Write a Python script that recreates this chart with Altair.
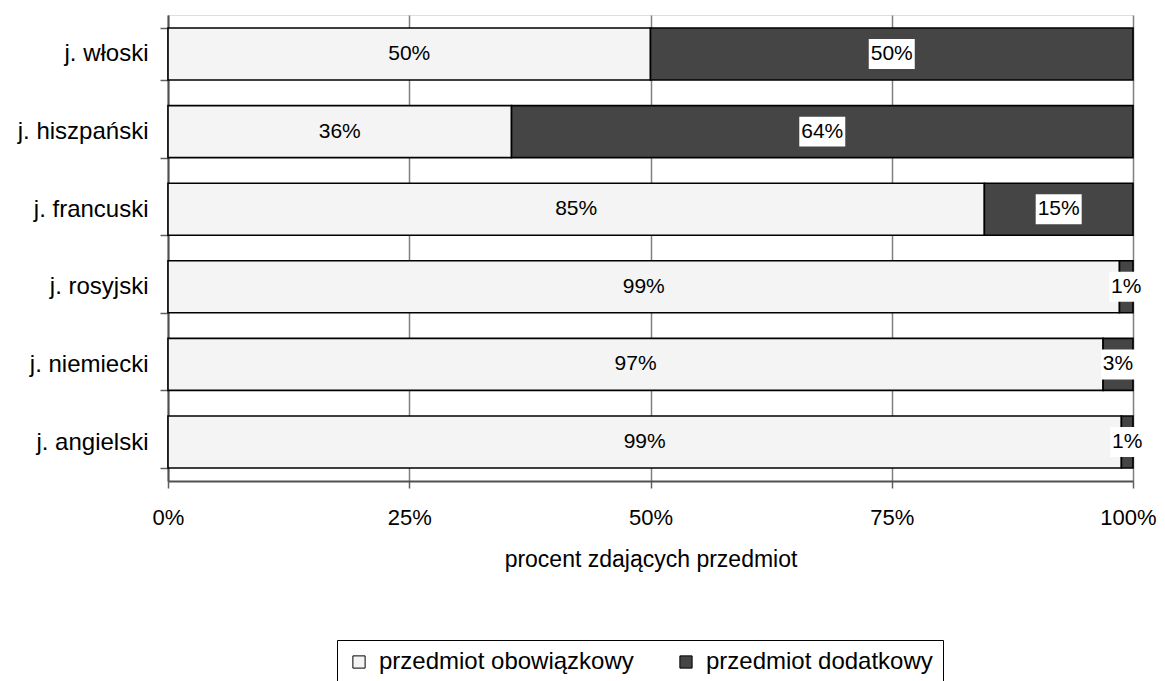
import altair as alt
import pandas as pd

languages = ["j. włoski", "j. hiszpański", "j. francuski", "j. rosyjski", "j. niemiecki", "j. angielski"]
obowiazkowy = [50.0, 35.6, 84.6, 98.6, 96.9, 98.8]
dodatkowy = [50.0, 64.4, 15.4, 1.4, 3.1, 1.2]
series = ["przedmiot obowiązkowy", "przedmiot dodatkowy"]
x_ticks = [0, 25, 50, 75, 100]

rows = []
for i, lang in enumerate(languages):
    rows.append({"lang": lang, "typ": series[0], "val": obowiazkowy[i], "ord": 0})
    rows.append({"lang": lang, "typ": series[1], "val": dodatkowy[i], "ord": 1})
df = pd.DataFrame(rows)

FONT = "Liberation Sans"
W, H = 965, 466

base = alt.Chart(df).transform_stack(
    stack="val", groupby=["lang"], as_=["x0", "x1"], sort=[alt.SortField("ord")]
).transform_calculate(
    mid="(datum.x0 + datum.x1) / 2",
    lab="format(datum.val, '.0f') + '%'",
    nch="length(format(datum.val, '.0f') + '%')",
)

y_enc = alt.Y(
    "lang:N", sort=languages, title=None,
    scale=alt.Scale(paddingInner=0.33, paddingOuter=0.167),
    axis=alt.Axis(tickBand="extent", labelFontSize=24, labelFont=FONT, labelColor="black",
                  tickSize=8, tickColor="#606060", tickWidth=1.5, domainColor="#505050",
                  domainWidth=2, labelPadding=12, grid=False),
)

x_axis = alt.Axis(values=x_ticks, labelExpr="datum.value + '%'", grid=True, gridColor="#808080",
                  gridWidth=1.5, tickSize=7, tickColor="#606060", tickWidth=1.5,
                  domainColor="#505050", domainWidth=2, labelFlush=False,
                  labelOffset={"condition": {"test": "datum.value == 100", "value": -5}, "value": 0},
                  labelFontSize=22, labelFont=FONT, labelColor="black", labelPadding=19,
                  title="procent zdających przedmiot", titleFontSize=23, titleFont=FONT,
                  titleFontWeight="normal", titleColor="black", titlePadding=20)
x_scale = alt.Scale(domain=[0, 100], nice=False)

bars = base.mark_bar(stroke="black", strokeWidth=1.6).encode(
    x=alt.X("x0:Q", scale=x_scale, axis=x_axis),
    x2="x1:Q",
    y=y_enc,
    color=alt.Color("typ:N", scale=alt.Scale(domain=series, range=["#f4f4f4", "#454545"]),
                    legend=alt.Legend(orient="none", legendX=169, legendY=625, direction="horizontal",
                                      title=None, symbolType="square", symbolSize=150,
                                      symbolStrokeColor="black", symbolStrokeWidth=1,
                                      labelFontSize=24, labelFont=FONT, labelColor="black",
                                      labelLimit=600, strokeColor="black", fillColor="white",
                                      padding=10, columnPadding=40, labelOffset=8)),
)

box3 = base.transform_filter("datum.ord == 1 && datum.nch == 3").mark_point(
    filled=True, color="white", opacity=1, strokeWidth=0,
    shape="M-1,-0.65L1,-0.65L1,0.65L-1,0.65Z",
).encode(x=alt.X("mid:Q", scale=x_scale, axis=x_axis), y=y_enc, size=alt.value(46 * 46))

box2 = base.transform_filter("datum.ord == 1 && datum.nch == 2").mark_point(
    filled=True, color="white", opacity=1, strokeWidth=0,
    shape="M-1,-0.88L1,-0.88L1,0.88L-1,0.88Z",
).encode(x=alt.X("mid:Q", scale=x_scale, axis=x_axis), y=y_enc, size=alt.value(34 * 34))

labels = base.mark_text(fontSize=21, font=FONT, color="black").encode(
    x=alt.X("mid:Q", scale=x_scale, axis=x_axis), y=y_enc, text="lab:N",
)

chart = alt.layer(bars, box3, box2, labels).properties(
    width=W, height=H,
    autosize=alt.AutoSizeParams(type="none"),
    padding={"left": 160, "top": 7, "right": 24, "bottom": 200},
).configure_view(stroke="#808080", strokeWidth=1.5).configure(background="white")

chart.save("out.html", embed_options={"renderer": "svg", "actions": False})
